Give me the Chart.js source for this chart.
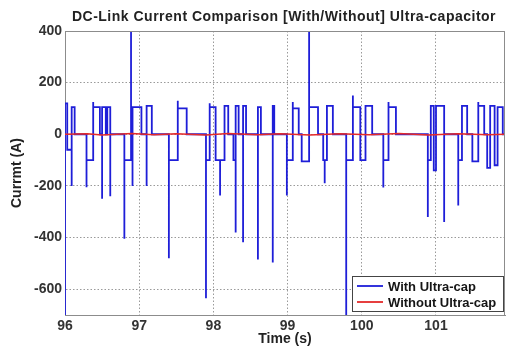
<!DOCTYPE html>
<html><head><meta charset="utf-8">
<script src="https://cdn.jsdelivr.net/npm/chart.js@4.4.1/dist/chart.umd.min.js"></script>
<style>html,body{margin:0;padding:0;background:#fff}#wrap{width:506px;height:351px;position:relative}</style>
</head><body><div id="wrap"><canvas id="c" width="506" height="351"></canvas></div>
<script>
const chartTitle = 'DC-Link Current Comparison [With/Without] Ultra-capacitor';
const xTitle = 'Time (s)';
const yTitle = 'Currmt (A)';
const seriesLabels = ['With Ultra-cap', 'Without Ultra-cap'];
const seriesColors = ['#1e1ed8', '#e42a2a'];
const xTicks = [96, 97, 98, 99, 100, 101];
const yTicks = [-600, -400, -200, 0, 200, 400];

// "With Ultra-cap": step signal, each value holds until the next time
const withTime = [
  96.00, 96.00, 96.03, 96.09, 96.09, 96.13, 96.29, 96.29, 96.38, 96.38, 96.47,
  96.50, 96.50, 96.55, 96.57, 96.61, 96.61, 96.80, 96.80, 96.89, 96.89, 96.91, 96.91,
  97.03, 97.10, 97.10, 97.17, 97.40, 97.40, 97.52, 97.52, 97.64, 97.90, 97.90,
  97.95, 97.95, 98.03, 98.09, 98.09, 98.15, 98.20, 98.27, 98.30, 98.30, 98.34,
  98.40, 98.40, 98.44, 98.60, 98.60, 98.64, 98.80, 98.80, 98.82, 98.99, 98.99,
  99.07, 99.07, 99.15, 99.19, 99.29, 99.29, 99.41, 99.48, 99.50, 99.50, 99.53, 99.61,
  99.79, 99.79, 99.88, 99.88, 99.98, 100.05, 100.14, 100.29, 100.29, 100.36, 100.36, 100.46,
  100.89, 100.89, 100.93, 100.97, 101.00, 101.11, 101.11, 101.30, 101.30, 101.35, 101.42,
  101.49, 101.57, 101.57, 101.65, 101.69, 101.73, 101.79, 101.83, 101.90, 101.93
];
const withCurrent = [
  -750, 120, -60, -200, 105, 0, -205, -100, 125, 105, 0,
  -250, 105, 0, 105, -240, 0, -405, -100, 450, 105, -200, 105,
  0, -200, 110, 0, -480, -100, 130, 100, 0, -635, -100,
  120, 105, -100, -237, -100, 110, 0, -100, -380, 110, 0,
  -418, 110, 0, -485, 105, 0, -497, 110, 0, -237, -100,
  125, 100, 0, -105, 450, 105, 0, -100, -190, -100, 110, 0,
  -750, -100, 150, 105, -100, 110, 0, -206, -100, 125, 105, 0,
  -320, -100, 110, -140, 110, -340, 0, -276, -100, 110, 0,
  -105, 125, 110, 0, -130, 110, -120, 105, 0, 0
];

// "Without Ultra-cap": stays close to zero
const withoutTime = [96.00, 96.30, 96.50, 96.90, 97.20, 97.50, 97.90, 98.20, 98.60, 98.90,
  99.30, 99.70, 100.10, 100.50, 100.90, 101.30, 101.70, 101.93];
const withoutCurrent = [0, 2, -3, 3, -2, 2, -3, 3, -2, 2, -3, 2, -2, 3, -3, 2, -2, 0];

const FONT = '"Liberation Sans", Arial, Helvetica, sans-serif';
Chart.defaults.font.family = FONT;

const decor = {
  id: 'decor',
  afterDraw(chart) {
    const {ctx, chartArea: a} = chart;
    ctx.save();
    // top and right frame
    ctx.strokeStyle = '#8c8c8c';
    ctx.lineWidth = 1;
    ctx.beginPath();
    ctx.moveTo(a.left, a.top + 0.5);
    ctx.lineTo(a.right - 0.5, a.top + 0.5);
    ctx.lineTo(a.right - 0.5, a.bottom);
    ctx.stroke();
    // title
    ctx.font = 'bold 14px ' + FONT;
    if ('letterSpacing' in ctx) ctx.letterSpacing = '0.5px';
    ctx.fillStyle = '#222';
    ctx.textAlign = 'center';
    ctx.textBaseline = 'middle';
    ctx.fillText(chartTitle, (a.left + a.right) / 2 - 1, a.top - 14);
    if ('letterSpacing' in ctx) ctx.letterSpacing = '0px';
    // legend box
    const bw = 152, bh = 36;
    const bx = a.right - 1 - bw, by = a.bottom - 3 - bh;
    ctx.fillStyle = '#fff';
    ctx.fillRect(bx, by, bw, bh);
    ctx.strokeStyle = '#444';
    ctx.strokeRect(bx + 0.5, by + 0.5, bw - 1, bh - 1);
    ctx.font = 'bold 13px ' + FONT;
    ctx.textAlign = 'left';
    seriesLabels.forEach((lab, i) => {
      const yy = by + 10 + i * 16;
      ctx.strokeStyle = seriesColors[i];
      ctx.lineWidth = 1.8;
      ctx.beginPath();
      ctx.moveTo(bx + 5, yy);
      ctx.lineTo(bx + 31, yy);
      ctx.stroke();
      ctx.fillStyle = '#151515';
      ctx.fillText(lab, bx + 36, yy + 1);
    });
    ctx.restore();
  }
};

new Chart(document.getElementById('c'), {
  type: 'line',
  data: {
    datasets: [
      {
        label: seriesLabels[0],
        data: withTime.map((t, i) => ({x: t, y: withCurrent[i]})),
        borderColor: seriesColors[0],
        borderWidth: 1.8,
        stepped: true,
        pointRadius: 0,
        fill: false,
        order: 1
      },
      {
        label: seriesLabels[1],
        data: withoutTime.map((t, i) => ({x: t, y: withoutCurrent[i]})),
        borderColor: seriesColors[1],
        borderWidth: 1.6,
        pointRadius: 0,
        fill: false,
        order: 0
      }
    ]
  },
  options: {
    responsive: false,
    animation: false,
    devicePixelRatio: 1,
    layout: {padding: {top: 31, right: 1, left: 0, bottom: 0}},
    plugins: {legend: {display: false}, title: {display: false}, tooltip: {enabled: false}},
    scales: {
      x: {
        type: 'linear',
        min: 96,
        max: 101.93,
        afterBuildTicks: s => { s.ticks = xTicks.map(v => ({value: v})); },
        afterFit: s => { s.height = 36; },
        ticks: {font: {size: 14, weight: 'bold'}, color: '#333', padding: 3, maxRotation: 0, callback: v => String(v)},
        grid: {color: '#9a9a9a', drawTicks: false, lineWidth: 1},
        border: {color: '#8c8c8c', dash: [1.5, 2]},
        title: {display: true, text: xTitle, font: {size: 14, weight: 'bold'}, color: '#222', padding: {top: 0, bottom: 3}}
      },
      y: {
        type: 'linear',
        min: -700,
        max: 400,
        afterBuildTicks: s => { s.ticks = yTicks.map(v => ({value: v})); },
        afterFit: s => { s.width = 65; },
        ticks: {font: {size: 14, weight: 'bold'}, color: '#333', padding: 3, callback: v => String(v)},
        grid: {color: '#9a9a9a', drawTicks: false, lineWidth: 1},
        border: {color: '#8c8c8c', dash: [1.5, 2]},
        title: {display: true, text: yTitle, font: {size: 14, weight: 'bold'}, color: '#222', padding: {top: 9, bottom: 0}}
      }
    }
  },
  plugins: [decor]
});
</script>
</body></html>
